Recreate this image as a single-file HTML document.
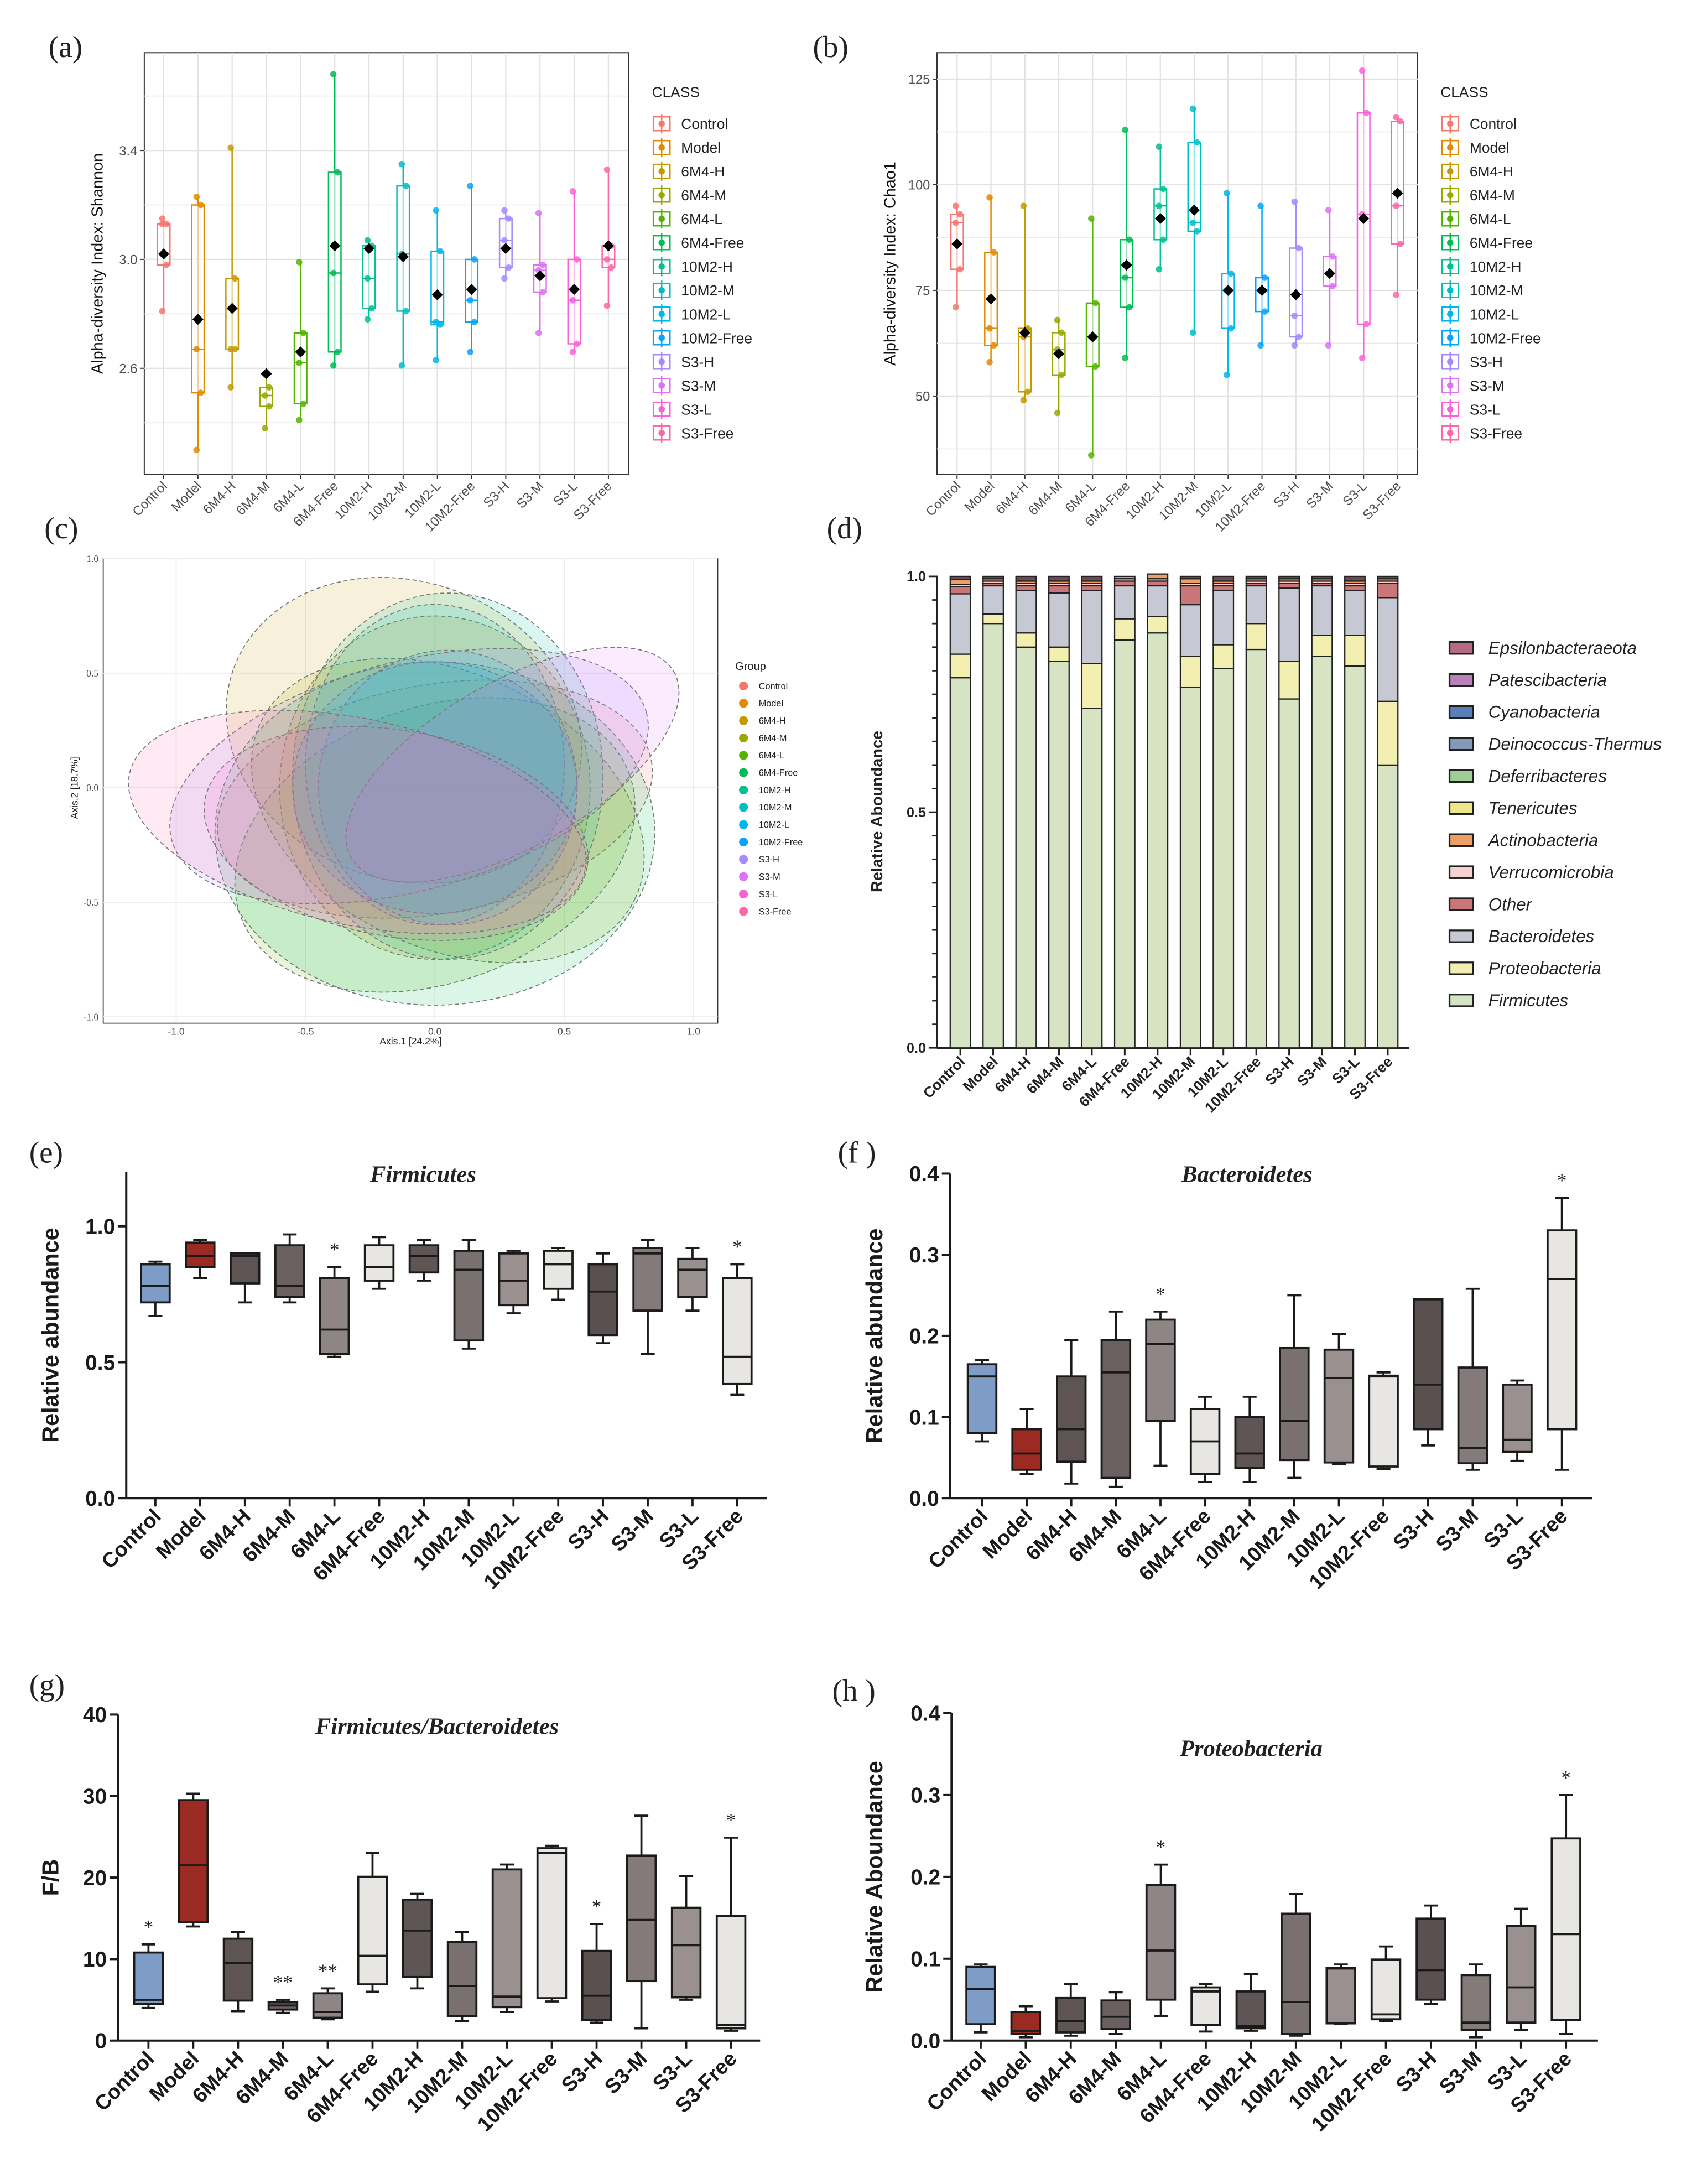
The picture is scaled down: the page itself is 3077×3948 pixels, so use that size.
<!DOCTYPE html>
<html><head><meta charset="utf-8"><style>
html,body{margin:0;padding:0;background:#fff}
svg{display:block}
text{font-family:"Liberation Sans",sans-serif}
.serif{font-family:"Liberation Serif",serif}
</style></head><body>
<svg id="fig" xmlns="http://www.w3.org/2000/svg" width="3077" height="3948" viewBox="0 0 1227 1574.4"></svg>
<script>
const groups=["Control","Model","6M4-H","6M4-M","6M4-L","6M4-Free","10M2-H","10M2-M","10M2-L","10M2-Free","S3-H","S3-M","S3-L","S3-Free"];
const hueColors=["#F8766D","#E38900","#C49A00","#99A800","#53B400","#00BC56","#00C094","#00BFC4","#00B6EB","#06A4FF","#A58AFF","#DF70F8","#FB61D7","#FF66A8"];
// panel a/b: [whiskLo, q1, q3, whiskHi, mean]
const shannonBox=[[2.81,2.98,3.13,3.15,3.02],[2.30,2.51,3.20,3.23,2.78],[2.53,2.67,2.93,3.41,2.82],[2.38,2.46,2.53,2.58,2.58],[2.41,2.47,2.73,2.99,2.66],[2.61,2.66,3.32,3.68,3.05],[2.78,2.82,3.05,3.07,3.04],[2.61,2.81,3.27,3.35,3.01],[2.63,2.76,3.03,3.18,2.87],[2.66,2.77,3.00,3.27,2.89],[2.93,2.97,3.15,3.18,3.04],[2.73,2.88,2.98,3.17,2.94],[2.66,2.69,3.00,3.25,2.89],[2.83,2.97,3.05,3.33,3.05]];
const shannonMed=[3.13,2.67,2.67,2.50,2.62,2.95,2.93,3.02,2.77,2.85,3.07,2.96,2.85,3.00];
const shannonTicks=[2.6,3.0,3.4];
const chaoBox=[[71,80,93,95,86],[58,62,84,97,73],[49,51,66,95,65],[46,55,65,68,60],[36,57,72,92,64],[59,71,87,113,81],[80,87,99,109,92],[65,89,110,118,94],[55,66,79,98,75],[62,70,78,95,75],[62,64,85,96,74],[62,76,83,94,79],[59,67,117,127,92],[74,86,115,116,98]];
const chaoMed=[91,66,64,61,64,78,95,91,75,75,69,79,93,95];
const chaoTicks=[50,75,100,125];
// panel c: ellipses [cx, cy, rx, ry, angleDeg] in axis units
const ellipses=[[0.0,-0.05,0.85,0.5,10],[0.0,0.0,0.6,0.75,0],[-0.12,0.25,0.7,0.65,-20],[0.05,-0.1,0.8,0.6,-25],[0.0,-0.25,0.8,0.6,20],[0.0,-0.2,0.85,0.75,0],[0.05,0.05,0.6,0.8,0],[0.0,0.1,0.5,0.7,0],[0.05,0.0,0.5,0.6,0],[0.0,0.0,0.55,0.55,0],[-0.1,0.05,0.95,0.5,15],[0.3,0.1,0.72,0.36,30],[-0.15,-0.2,0.75,0.45,-10],[-0.3,-0.15,0.9,0.45,-12]];
const pcoaTicks=[-1.0,-0.5,0.0,0.5,1.0];
// panel d stacked
const phyla=["Firmicutes","Proteobacteria","Bacteroidetes","Other","Verrucomicrobia","Actinobacteria","Tenericutes","Deferribacteres","Deinococcus-Thermus","Cyanobacteria","Patescibacteria","Epsilonbacteraeota"];
const phylaColors=["#D6E4C4","#F3EFB0","#C6C8D4","#C9767A","#F4D2D0","#EE9F66","#EEE88A","#9FCD96","#8399B8","#5A7EB8","#B981B8","#B86A85"];
const firmicutesRel=[0.785,0.90,0.85,0.82,0.72,0.865,0.88,0.765,0.805,0.845,0.74,0.83,0.81,0.60];
const proteoRel=[0.05,0.02,0.03,0.03,0.095,0.045,0.035,0.065,0.05,0.055,0.08,0.045,0.065,0.135];
const bacteroRel=[0.128,0.06,0.09,0.115,0.155,0.07,0.065,0.11,0.115,0.08,0.155,0.105,0.095,0.22];
const otherRel=[0.015,0.005,0.01,0.015,0.01,0.01,0.01,0.04,0.01,0.005,0.01,0.005,0.01,0.03];
const verruRel=[0.005,0.005,0.005,0.005,0.005,0.005,0.005,0.005,0.005,0.005,0.005,0.005,0.005,0.005];
const actinoRel=[0.01,0.005,0.005,0.005,0.005,0.005,0.01,0.01,0.005,0.005,0.005,0.005,0.005,0.005];
const relTicks=[0.0,0.5,1.0];
// GraphPad boxes [min,q1,med,q3,max]
const firmBox=[[.67,.72,.78,.86,.87],[.81,.85,.89,.94,.95],[.72,.79,.89,.90,.90],[.72,.74,.78,.93,.97],[.52,.53,.62,.81,.85],[.77,.80,.85,.93,.96],[.80,.83,.89,.93,.95],[.55,.58,.84,.91,.95],[.68,.71,.80,.90,.91],[.73,.77,.86,.91,.92],[.57,.60,.76,.86,.90],[.53,.69,.90,.92,.95],[.69,.74,.84,.88,.92],[.38,.42,.52,.81,.86]];
const firmStars=["","","","","*","","","","","","","","","*"];
const bactBox=[[.07,.08,.15,.165,.17],[.03,.035,.055,.085,.11],[.018,.045,.085,.15,.195],[.014,.025,.155,.195,.23],[.04,.095,.19,.22,.23],[.02,.03,.07,.11,.125],[.02,.037,.055,.10,.125],[.025,.047,.095,.185,.25],[.042,.044,.148,.183,.202],[.036,.039,.15,.151,.155],[.065,.085,.14,.245,.245],[.035,.043,.062,.161,.258],[.046,.057,.072,.14,.145],[.035,.085,.27,.33,.37]];
const bactStars=["","","","","*","","","","","","","","","*"];
const fbBox=[[4,4.5,5,10.8,11.8],[14,14.5,21.5,29.5,30.3],[3.6,4.9,9.5,12.5,13.3],[3.4,3.8,4.3,4.7,5],[2.6,2.8,3.5,5.8,6.4],[6,6.9,10.4,20.1,23],[6.4,7.8,13.5,17.3,18],[2.4,3,6.7,12.1,13.3],[3.5,4.1,5.4,21,21.6],[4.8,5.2,23,23.6,23.9],[2.2,2.5,5.5,11,14.3],[1.5,7.3,14.8,22.7,27.6],[5,5.3,11.7,16.3,20.2],[1.2,1.5,1.9,15.3,24.9]];
const fbStars=["*","","","**","**","","","","","","*","","","*"];
const protBox=[[.01,.02,.063,.09,.093],[.004,.008,.012,.035,.042],[.006,.01,.024,.052,.069],[.008,.014,.029,.049,.059],[.03,.05,.11,.19,.215],[.011,.019,.06,.065,.069],[.012,.015,.018,.06,.081],[.006,.008,.047,.155,.179],[.02,.021,.088,.089,.093],[.024,.026,.032,.099,.115],[.045,.05,.086,.149,.165],[.004,.013,.022,.08,.093],[.013,.022,.065,.14,.161],[.008,.025,.13,.247,.30]];
const protStars=["","","","","*","","","","","","","","","*"];
const ticks01=[0.0,0.1,0.2,0.3,0.4];
const ticksFB=[0,10,20,30,40];
const ticksFirm=[0.0,0.5,1.0];
const boxFills=["#7F9CC6","#9B2A22","#5F5454","#6A6060","#8F8585","#E8E6E3","#5F5555","#7A7070","#9A9090","#E8E6E3","#5A5050","#857A7A","#9A9090","#E8E6E3"];

const NS="http://www.w3.org/2000/svg";
const svg=document.getElementById('fig');
function el(tag,attrs,parent,txt){const e=document.createElementNS(NS,tag);for(const k in attrs)e.setAttribute(k,attrs[k]);if(txt!==undefined)e.textContent=txt;(parent||svg).appendChild(e);return e;}
function lin(d0,d1,r0,r1){return v=>r0+(v-d0)*(r1-r0)/(d1-d0);}
function grp(name){const g=el('g',{});return g;}

[["(a)",35,41],["(b)",586,41],["(c)",32,388],["(d)",596,388],["(e)",21,838],["(f )",604,838],["(g)",21,1222],["(h )",600,1226]].forEach(p=>{
 const t=el('text',{x:p[1],y:p[2],'font-size':22,'class':'serif',fill:'#222'},svg,p[0]);
 
 
});

function ggBox(name,x0,x1,y0,y1,ya,pa,yb,pb,ticks,box,med,ytitle,legX,legY,xFirst,xLast){
 const g=grp(name);
 const ys=lin(ya,yb,pa,pb);
 const xs=i=>xFirst+i*(xLast-xFirst)/13;
 el('rect',{x:x0,y:y0,width:x1-x0,height:y1-y0,fill:'#fff',stroke:'#333','stroke-width':0.8},g);
 const step=ticks[1]-ticks[0];
 for(let t=ticks[0]-step/2;ys(t)>y0;t+=step/2){if(ys(t)<y1)el('line',{x1:x0,x2:x1,y1:ys(t),y2:ys(t),stroke:'#ebebeb','stroke-width':0.7},g);}
 ticks.forEach(t=>{el('line',{x1:x0,x2:x1,y1:ys(t),y2:ys(t),stroke:'#e2e2e2','stroke-width':0.9},g);
  el('line',{x1:x0-3,x2:x0,y1:ys(t),y2:ys(t),stroke:'#333','stroke-width':0.8},g);
  const tl=el('text',{x:x0-5,y:ys(t)+3.5,'font-size':9.5,'text-anchor':'end',fill:'#4d4d4d'},g,t>=10?String(t):t.toFixed(1));
  
  });
 groups.forEach((n,i)=>{el('line',{x1:xs(i),x2:xs(i),y1:y0,y2:y1,stroke:'#e2e2e2','stroke-width':0.9},g);});
 box.forEach((b,i)=>{const c=hueColors[i],x=xs(i),w=4.5;
  const bg=el('g',{},g);
  
  
  el('line',{x1:x,x2:x,y1:ys(b[0]),y2:ys(b[3]),stroke:c,'stroke-width':1},bg);
  el('rect',{x:x-w,y:ys(b[2]),width:2*w,height:ys(b[1])-ys(b[2]),fill:'#fff','fill-opacity':0.6,stroke:c,'stroke-width':1},bg);
  el('line',{x1:x-w,x2:x+w,y1:ys(med[i]),y2:ys(med[i]),stroke:c,'stroke-width':1},bg);
  [b[0],b[1],med[i],b[2],b[3]].forEach((v,k)=>el('circle',{cx:x+(k%2?2:-1),cy:ys(v),r:2.3,fill:c,'fill-opacity':0.85},bg));
  el('path',{d:`M${x} ${ys(b[4])-4}L${x+4} ${ys(b[4])}L${x} ${ys(b[4])+4}L${x-4} ${ys(b[4])}Z`,fill:'#000'},bg);
  el('line',{x1:x,x2:x,y1:y1,y2:y1+3,stroke:'#333','stroke-width':0.8},g);
  const tl=el('text',{x:x+3,y:y1+9,'font-size':9.5,'text-anchor':'end',fill:'#4d4d4d',transform:`rotate(-45 ${x+3} ${y1+9})`},g,groups[i]);
  
  
 });
 const yt=el('text',{x:0,y:0,'font-size':11.5,'text-anchor':'middle',fill:'#111',transform:`translate(${x0-30} ${(y0+y1)/2}) rotate(-90)`},g,ytitle);
 
 
 const lt=el('text',{x:legX,y:legY,'font-size':10.5,fill:'#222'},g,'CLASS');
 
 
 groups.forEach((n,i)=>{const y=legY+19.2+i*17.15;const le=el('g',{},g);
  
  
  el('rect',{x:legX+1,y:y-5,width:12,height:10,fill:'#fff',stroke:hueColors[i]},le);
  el('line',{x1:legX+7,x2:legX+7,y1:y-7,y2:y+7,stroke:hueColors[i]},le);
  el('circle',{cx:legX+7,cy:y,r:2.3,fill:hueColors[i]},le);
  el('text',{x:legX+21,y:y+3.8,'font-size':10.5,fill:'#222'},le,n);});
}
ggBox('shannon-chart',104,453,38,342,2.6,265.5,3.0,187,shannonTicks,shannonBox,shannonMed,'Alpha-diversity Index: Shannon',470,70,118,438.6);
ggBox('chao1-chart',675.5,1022,38,342,50,285.5,125,57,chaoTicks,chaoBox,chaoMed,'Alpha-diversity Index: Chao1',1038.5,70,690,1007.5);

// Panel c PCoA
(function(){
 const g=grp('pcoa-chart');
 const xs=lin(-1,1,127,500),ys=lin(-1,1,733,402.6);
 el('rect',{x:74.4,y:402.6,width:443,height:335,fill:'#fff',stroke:'#333','stroke-width':0.7},g);
 pcoaTicks.forEach(t=>{
  el('line',{x1:xs(t),x2:xs(t),y1:402.6,y2:737.6,stroke:'#ebebeb','stroke-width':0.7},g);
  el('line',{x1:74.4,x2:517.4,y1:ys(t),y2:ys(t),stroke:'#ebebeb','stroke-width':0.7},g);
  const a=el('text',{x:xs(t),y:746,'font-size':7,'text-anchor':'middle',fill:'#4d4d4d'},g,t.toFixed(1));
  
  
  const b=el('text',{x:71,y:ys(t)+2.5,'font-size':7,'text-anchor':'end',fill:'#4d4d4d','class':'serif'},g,t.toFixed(1));
  
  
 });
 ellipses.forEach((e,i)=>{
  const el1=el('ellipse',{cx:xs(e[0]),cy:ys(e[1]),rx:e[2]*186.5,ry:e[3]*165,transform:`rotate(${-e[4]} ${xs(e[0])} ${ys(e[1])})`,fill:hueColors[i],'fill-opacity':0.14,stroke:'#777','stroke-dasharray':'3 2','stroke-width':0.7},g);
  
  
 });
 const xt=el('text',{x:296,y:753,'font-size':7,'text-anchor':'middle',fill:'#222'},g,'Axis.1  [24.2%]');
 
 
 const yt=el('text',{x:0,y:0,'font-size':7,'text-anchor':'middle',fill:'#222',transform:'translate(56 568) rotate(-90)'},g,'Axis.2  [18.7%]');
 
 
 const lt=el('text',{x:530,y:483,'font-size':8,fill:'#222'},g,'Group');
 
 
 groups.forEach((n,i)=>{const y=494.5+i*12.5;const le=el('g',{},g);
  
  
  el('circle',{cx:536,cy:y,r:3.2,fill:hueColors[i]},le);
  el('text',{x:547,y:y+2.3,'font-size':6.5,fill:'#222'},le,n);});
})();

// Panel d stacked bars
(function(){
 const g=grp('stacked-bar-chart');
 const ax=675.5;
 const ys=lin(0,1,755.4,415.5);
 const xs=i=>692.3+i*(1000.5-692.3)/13;
 el('line',{x1:ax,x2:ax,y1:415,y2:755.4,stroke:'#222','stroke-width':1.4},g);
 el('line',{x1:ax,x2:1016,y1:755.4,y2:755.4,stroke:'#222','stroke-width':1.4},g);
 for(let k=0;k<=20;k++){const t=k*0.05;el('line',{x1:ax-(k%10===0?6:3.5),x2:ax,y1:ys(t),y2:ys(t),stroke:'#222','stroke-width':1.1},g);}
 relTicks.forEach(t=>{
  const tl=el('text',{x:667.5,y:ys(t)+3.5,'font-size':10,'font-weight':'bold','text-anchor':'end',fill:'#222'},g,t.toFixed(1));
  
  });
 const series=[firmicutesRel,proteoRel,bacteroRel,otherRel,verruRel,actinoRel];
 groups.forEach((n,i)=>{
  let acc=0;const x=xs(i);
  series.forEach((s,k)=>{const v=s[i];
   const r=el('rect',{x:x-7.3,y:ys(acc+v),width:14.6,height:ys(acc)-ys(acc+v),fill:phylaColors[k],stroke:'#222','stroke-width':0.9},g);
   
   
   acc+=v;});
  const rest=Math.max(0,1-acc);
  const r=el('rect',{x:x-7.3,y:ys(1),width:14.6,height:ys(acc)-ys(1),fill:'#6b4a5a',stroke:'#222','stroke-width':0.9},g);
  
  
  el('line',{x1:x,x2:x,y1:755.4,y2:761,stroke:'#222','stroke-width':1.2},g);
  const tl=el('text',{x:x+4,y:766,'font-size':10.5,'font-weight':'bold','text-anchor':'end',fill:'#222',transform:`rotate(-45 ${x+4} 766)`},g,n);
  
  
 });
 const yt=el('text',{x:0,y:0,'font-size':11.5,'font-weight':'bold','text-anchor':'middle',fill:'#222',transform:'translate(636 585) rotate(-90)'},g,'Relative Aboundance');
 
 
 const order=[11,10,9,8,7,6,5,4,3,2,1,0];
 order.forEach((k,j)=>{const y=466.8+j*23.1;const le=el('g',{},g);
  
  
  el('rect',{x:1045,y:y-4,width:17,height:8.5,fill:phylaColors[k],stroke:'#222','stroke-width':1.3},le);
  el('text',{x:1073,y:y+4.5,'font-size':12.5,'font-style':'italic',fill:'#222'},le,phyla[k]);});
})();

// GraphPad box plots
function gpBox(name,ax,xr,y0px,y1px,d0,d1,ticks,dec,box,stars,title,titleX,titleY,ytitle,ytX,xFirst,xLast,topY){
 const g=grp(name);
 const ys=lin(d0,d1,y0px,y1px);
 const xs=i=>xFirst+i*(xLast-xFirst)/13;
 el('line',{x1:ax,x2:ax,y1:topY,y2:y0px,stroke:'#1a1a1a','stroke-width':1.6},g);
 el('line',{x1:ax,x2:xr,y1:y0px,y2:y0px,stroke:'#1a1a1a','stroke-width':1.6},g);
 ticks.forEach(t=>{el('line',{x1:ax-6,x2:ax,y1:ys(t),y2:ys(t),stroke:'#1a1a1a','stroke-width':1.6},g);
  const tl=el('text',{x:ax-8,y:ys(t)+5.5,'font-size':15.5,'font-weight':'bold','text-anchor':'end',fill:'#1a1a1a'},g,t.toFixed(dec));
  
  });
 box.forEach((b,i)=>{const x=xs(i),w=10.3,cap=5;
  const bg=el('g',{},g);
  
  
  el('line',{x1:x,x2:x,y1:ys(b[0]),y2:ys(b[4]),stroke:'#1a1a1a','stroke-width':1.5},bg);
  el('line',{x1:x-cap,x2:x+cap,y1:ys(b[0]),y2:ys(b[0]),stroke:'#1a1a1a','stroke-width':1.5},bg);
  el('line',{x1:x-cap,x2:x+cap,y1:ys(b[4]),y2:ys(b[4]),stroke:'#1a1a1a','stroke-width':1.5},bg);
  el('rect',{x:x-w,y:ys(b[3]),width:2*w,height:Math.max(1,ys(b[1])-ys(b[3])),fill:boxFills[i],stroke:'#1a1a1a','stroke-width':1.5},bg);
  el('line',{x1:x-w,x2:x+w,y1:ys(b[2]),y2:ys(b[2]),stroke:'#1a1a1a','stroke-width':1.5},bg);
  if(stars[i]){const s=el('text',{x:x,y:ys(b[4])-8,'font-size':14,'text-anchor':'middle','class':'serif',fill:'#222'},g,stars[i]);
   
   }
  el('line',{x1:x,x2:x,y1:y0px,y2:y0px+6,stroke:'#1a1a1a','stroke-width':1.5},g);
  const tl=el('text',{x:x+5,y:y0px+14,'font-size':15,'font-weight':'bold','text-anchor':'end',fill:'#1a1a1a',transform:`rotate(-45 ${x+5} ${y0px+14})`},g,groups[i]);
  
  
 });
 const tt=el('text',{x:titleX,y:titleY,'font-size':17,'font-weight':'bold','font-style':'italic','text-anchor':'middle','class':'serif',fill:'#222'},g,title);
 
 
 const yt=el('text',{x:0,y:0,'font-size':16.5,'font-weight':'bold','text-anchor':'middle',fill:'#1a1a1a',transform:`translate(${ytX} ${(topY+y0px)/2}) rotate(-90)`},g,ytitle);
 
 
}
gpBox('firmicutes-chart',91,553,1080,884,0,1,ticksFirm,1,firmBox,firmStars,'Firmicutes',305,852,'Relative abundance',42,112,531.5,845);
gpBox('bacteroidetes-chart',685,1148,1080,846,0,0.4,ticks01,1,bactBox,bactStars,'Bacteroidetes',899,852,'Relative abundance',636,708,1126,846);
gpBox('fb-ratio-chart',85,548,1471,1236,0,40,ticksFB,0,fbBox,fbStars,'Firmicutes/Bacteroidetes',315,1250,'F/B',42,107,527,1236);
gpBox('proteobacteria-chart',686,1152,1471,1235,0,0.4,ticks01,1,protBox,protStars,'Proteobacteria',902,1266,'Relative Aboundance',636,707,1129,1235);
</script>
</body></html>
